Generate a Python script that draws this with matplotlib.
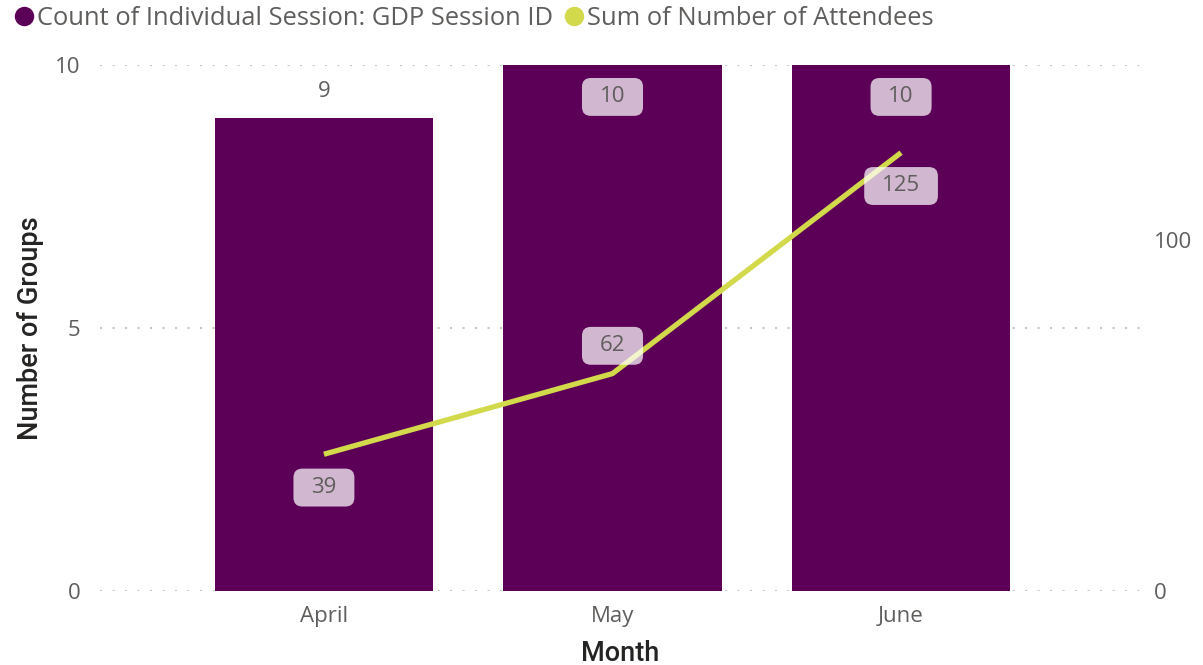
import matplotlib.pyplot as plt
from matplotlib.lines import Line2D
from matplotlib.patches import BoxStyle

months = ["April", "May", "June"]
session_counts = [9, 10, 10]
attendees = [39, 62, 125]

BAR_COLOR = "#5C0057"
LINE_COLOR = "#D2D94B"
TEXT_COLOR = "#605E5C"
GRID_COLOR = "#C8C6C4"

plt.rcParams["font.family"] = ["Open Sans", "DejaVu Sans"]


def label_box(x0, y0, width, height, mutation_size):
    # rounded box with more horizontal than vertical padding
    padx = 0.8 * mutation_size
    pady = 0.38 * mutation_size
    return BoxStyle.Round(pad=0, rounding_size=0.4 * mutation_size)(
        x0 - padx, y0 - pady, width + 2 * padx, height + 2 * pady, 1)


fig = plt.figure(figsize=(12.03, 6.65), dpi=100)
ax = fig.add_axes([100 / 1203, 1 - 591 / 665, 1040 / 1203, 526 / 665])
ax2 = ax.twinx()

x = list(range(len(months)))
ax.bar(x, session_counts, width=0.756, color=BAR_COLOR, zorder=2)
ax.set_xlim(-0.776, 2.828)
ax.set_ylim(0, 10)
ax.set_yticks([0, 5, 10])
ax.grid(axis="y", color=GRID_COLOR, linestyle=(0, (1, 5)), linewidth=1.5, zorder=0)
ax.set_axisbelow(True)

ax2.plot(x, attendees, color=LINE_COLOR, linewidth=3.8, solid_capstyle="butt", zorder=3)
ax2.set_ylim(0, 150)
ax2.set_yticks([0, 100])

for a in (ax, ax2):
    for s in a.spines.values():
        s.set_visible(False)
    a.tick_params(length=0, labelsize=16, labelcolor=TEXT_COLOR)
ax.tick_params(axis="y", pad=14)
ax.tick_params(axis="x", pad=11)
ax2.tick_params(axis="y", pad=10)

ax.set_xticks(x)
ax.set_xticklabels(months)

label_font = dict(family=["Roboto", "DejaVu Sans"], fontsize=19.5,
                  color="#252423", fontweight="medium")
ax.set_xlabel("Month", labelpad=9, **label_font)
ax.set_ylabel("Number of Groups", labelpad=8, **label_font)

box = dict(boxstyle=label_box, facecolor="white", edgecolor="none", alpha=0.72)

# bar value labels: outside if room, otherwise boxed inside the top
for xi, v in zip(x, session_counts):
    if v < 10:
        ax.annotate(str(v), (xi, v), xytext=(0, 11), textcoords="offset points",
                    ha="center", va="bottom", fontsize=16, color=TEXT_COLOR)
    else:
        ax.annotate(str(v), (xi, v), xytext=(0, -23), textcoords="offset points",
                    ha="center", va="center", fontsize=16, color=TEXT_COLOR,
                    bbox=box, zorder=5)

# line value labels
offsets = [-24, 20, -24]
for xi, v, dy in zip(x, attendees, offsets):
    ax2.annotate(str(v), (xi, v), xytext=(0, dy), textcoords="offset points",
                 ha="center", va="center", fontsize=16, color=TEXT_COLOR,
                 bbox=box, zorder=5)

handles = [
    Line2D([], [], marker="o", linestyle="none", markersize=14,
           markerfacecolor=BAR_COLOR, markeredgecolor="none"),
    Line2D([], [], marker="o", linestyle="none", markersize=14,
           markerfacecolor=LINE_COLOR, markeredgecolor="none"),
]
fig.legend(handles, ["Count of Individual Session: GDP Session ID",
                     "Sum of Number of Attendees"],
           loc="upper left", bbox_to_anchor=(-0.01, 1.025), ncol=2, frameon=False,
           handletextpad=0.0, columnspacing=0.35, handlelength=1.0,
           prop=dict(size=18.4), labelcolor=TEXT_COLOR)

fig.savefig("out.png", dpi=100)
